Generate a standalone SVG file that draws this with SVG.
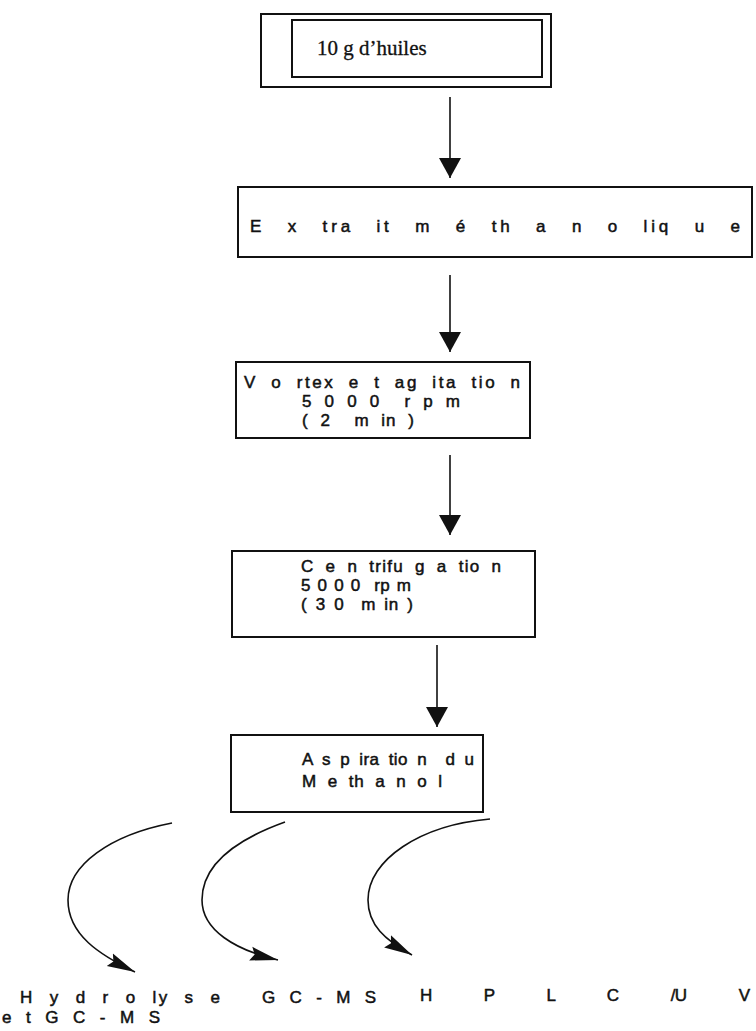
<svg xmlns="http://www.w3.org/2000/svg" width="756" height="1031" viewBox="0 0 756 1031">
<style>
.box{fill:none;stroke:#111;stroke-width:2}
.t{font-family:"Liberation Sans",Arial,sans-serif;font-size:17px;fill:#111;stroke:#111;stroke-width:0.5;white-space:pre}
.s{font-family:"Liberation Serif","Times New Roman",serif;font-size:21px;fill:#111;stroke:#111;stroke-width:0.3}
.ln{fill:none;stroke:#111;stroke-width:1.6}
</style>
<defs>
<marker id="ah" markerUnits="userSpaceOnUse" markerWidth="24" markerHeight="24" viewBox="0 0 24 24" refX="20" refY="12" orient="auto">
<path d="M0,1 L20,12 L0,23 Z" fill="#111"/>
</marker>
<marker id="ahc" markerUnits="userSpaceOnUse" markerWidth="30" markerHeight="20" viewBox="0 0 30 20" refX="28" refY="10" orient="auto">
<path d="M0,3 L28,10 L0,17 L4,10 Z" fill="#111"/>
</marker>
</defs>
<rect width="756" height="1031" fill="#fff"/>
<g id="n1">
<rect class="box" x="261" y="14" width="290" height="73"/>
<rect class="box" x="292" y="20" width="250" height="57"/>
<text class="s" x="317" y="55">10 g d’huiles</text>
</g>
<g id="n2">
<rect class="box" x="238" y="187" width="514" height="70"/>
<text class="t" x="250" y="232" style="word-spacing:14px" textLength="490" lengthAdjust="spacing">E x tra it m é th a n o liq u e</text>
</g>
<g id="n3">
<rect class="box" x="236" y="362" width="294" height="76"/>
<text class="t" x="244" y="388" style="word-spacing:6px" textLength="276" lengthAdjust="spacing">V o rtex e t ag ita tio n</text>
<text class="t" x="302" y="407" style="word-spacing:6px" textLength="158" lengthAdjust="spacing">5 0 0 0  r p m</text>
<text class="t" x="302" y="426" style="word-spacing:6px" textLength="112" lengthAdjust="spacing">( 2  m in )</text>
</g>
<g id="n4">
<rect class="box" x="232" y="551" width="303" height="86"/>
<text class="t" x="301" y="572" style="word-spacing:5px" textLength="200" lengthAdjust="spacing">C e n trifu g a tio n</text>
<text class="t" x="301" y="591" style="word-spacing:2px" textLength="110" lengthAdjust="spacing">5 0 0 0  rp m</text>
<text class="t" x="301" y="610" style="word-spacing:3px" textLength="112" lengthAdjust="spacing">( 3 0  m in )</text>
</g>
<g id="n5">
<rect class="box" x="231" y="735" width="252" height="77"/>
<text class="t" x="302" y="765" style="word-spacing:4px" textLength="172" lengthAdjust="spacing">A s p ira tio n  d u</text>
<text class="t" x="302" y="787" style="word-spacing:5px" textLength="140" lengthAdjust="spacing">M e th a n o l</text>
</g>
<g id="n6">
<text class="t" x="20" y="1003" style="word-spacing:8px" textLength="200" lengthAdjust="spacing">H y d r o ly s e</text>
<text class="t" x="2" y="1023" style="word-spacing:6px" textLength="158" lengthAdjust="spacing">e t G C - M S</text>
</g>
<g id="n7">
<text class="t" x="262" y="1003" style="word-spacing:6px" textLength="114" lengthAdjust="spacing">G C - M S</text>
</g>
<g id="n8">
<text class="t" x="420" y="1001" style="word-spacing:48px" textLength="330" lengthAdjust="spacing">H P L C /U V</text>
</g>
<g id="connectors">
<line class="ln" x1="450" y1="97" x2="450" y2="178" marker-end="url(#ah)"/>
<line class="ln" x1="450" y1="275" x2="450" y2="352" marker-end="url(#ah)"/>
<line class="ln" x1="450" y1="455" x2="450" y2="535" marker-end="url(#ah)"/>
<line class="ln" x1="437" y1="645" x2="437" y2="727" marker-end="url(#ah)"/>
<path class="ln" d="M172,823 C110,835 68,865 68,900 C68,935 100,955 135,972" marker-end="url(#ahc)"/>
<path class="ln" d="M285,822 C235,840 202,865 202,900 C202,930 235,950 278,960" marker-end="url(#ahc)"/>
<path class="ln" d="M490,819 C420,825 368,860 368,900 C368,925 385,940 412,955" marker-end="url(#ahc)"/>
</g>
</svg>
